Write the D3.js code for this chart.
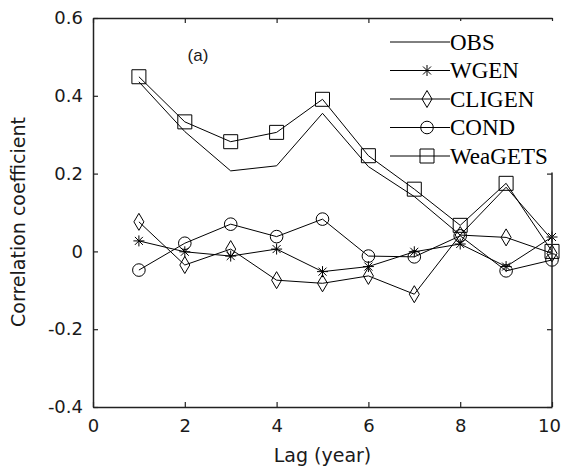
<!DOCTYPE html>
<html>
<head>
<meta charset="utf-8">
<script src="https://cdn.jsdelivr.net/npm/d3@7"></script>
<style>
  body { margin: 0; background: #fff; }
  svg { display: block; }
</style>
</head>
<body>
<div id="chart"></div>
<script>
const lags = [1, 2, 3, 4, 5, 6, 7, 8, 9, 10]
const obs     = [0.436, 0.308, 0.207, 0.220, 0.355, 0.218, 0.141, 0.042, 0.165, 0.030]
const wgen    = [0.027, -0.001, -0.012, 0.006, -0.052, -0.039, -0.001, 0.019, -0.039, 0.037]
const cligen  = [0.076, -0.035, 0.006, -0.074, -0.082, -0.063, -0.110, 0.042, 0.036, -0.005]
const cond    = [-0.048, 0.021, 0.070, 0.038, 0.083, -0.012, -0.014, 0.040, -0.050, -0.022]
const weagets = [0.449, 0.333, 0.282, 0.306, 0.391, 0.246, 0.160, 0.067, 0.175, 0.000]
const seriesNames = ["OBS", "WGEN", "CLIGEN", "COND", "WeaGETS"]
const xTicks = [0, 2, 4, 6, 8, 10]
const yTicks = [-0.4, -0.2, 0, 0.2, 0.4, 0.6]

const W = 561, H = 469
const margin = { top: 18, right: 9, bottom: 62, left: 93 }

const svg = d3.select("#chart").append("svg")
  .attr("width", W)
  .attr("height", H)

const x = d3.scaleLinear().domain([0, 10]).range([margin.left, W - margin.right])
const y = d3.scaleLinear().domain([-0.4, 0.6]).range([H - margin.bottom, margin.top])

// marker shapes, as in the matlab figure
const markers = {
  OBS: null,
  WGEN: "M-5.5,0H5.5M0,-5.5V5.5M-4,-4L4,4M-4,4L4,-4",
  CLIGEN: "M0,-8.5L5,0L0,8.5L-5,0Z",
  COND: d3.symbol(d3.symbolCircle, Math.PI * 6.3 * 6.3)(),
  WeaGETS: "M-7,-7H7V7H-7Z"
}

const series = [obs, wgen, cligen, cond, weagets].map((vals, i) => ({
  name: seriesNames[i],
  values: lags.map((l, j) => ({ lag: l, v: vals[j] }))
}))

const line = d3.line()
  .x((d) => { return x(d.lag) })
  .y((d) => { return y(d.v) })

const plot = svg.append("g")

plot.selectAll("path.series")
  .data(series)
  .join("path")
    .attr("class", "series")
    .attr("d", (d) => line(d.values))
    .attr("fill", "none")
    .attr("stroke", "#000")
    .attr("stroke-width", 1)

series.forEach((s) => {
  if (!markers[s.name]) return
  plot.selectAll(null)
    .data(s.values)
    .join("path")
      .attr("transform", (d) => "translate(" + x(d.lag) + "," + y(d.v) + ")")
      .attr("d", markers[s.name])
      .attr("fill", "none")
      .attr("stroke", "#000")
      .attr("stroke-width", 1)
})

// axes
const fmtY = (d) => String(Math.round(d * 10) / 10)
const axisColor = "#222"

const gx = svg.append("g")
  .attr("transform", "translate(0," + y(-0.4) + ")")
  .call(d3.axisBottom(x).tickValues(xTicks).tickSizeInner(-5).tickSizeOuter(0).tickPadding(12))
const gxTop = svg.append("g")
  .attr("transform", "translate(0," + y(0.6) + ")")
  .call(d3.axisTop(x).tickValues(xTicks).tickSizeInner(-5).tickSizeOuter(0).tickFormat(""))
const gy = svg.append("g")
  .attr("transform", "translate(" + x(0) + ",0)")
  .call(d3.axisLeft(y).tickValues(yTicks).tickSizeInner(-5).tickSizeOuter(0).tickPadding(10).tickFormat(fmtY))

// legend box hides the upper part of the right axis
const lg = svg.append("g")
lg.append("rect")
  .attr("x", 388).attr("y", 21)
  .attr("width", W - 388).attr("height", 147)
  .attr("fill", "#fff")

const gyRight = svg.append("g")
  .attr("transform", "translate(" + x(10) + ",0)")
  .call(d3.axisRight(y).tickValues(yTicks.filter((t) => t <= 0.2)).tickSizeInner(-5).tickSizeOuter(0).tickFormat(""))
gyRight.select(".domain").remove()
gyRight.append("line")
  .attr("x1", 0).attr("x2", 0)
  .attr("y1", y(0.2) - 1).attr("y2", y(-0.4))
  .attr("stroke", axisColor).attr("stroke-width", 1.5)

;[gx, gxTop, gy].forEach((g) => {
  g.select(".domain").attr("stroke", axisColor).attr("stroke-width", 1.5)
})
;[gx, gxTop, gy, gyRight].forEach((g) => {
  g.selectAll(".tick line").attr("stroke", axisColor).attr("stroke-width", 1.2)
  g.selectAll(".tick text")
    .attr("font-family", "'DejaVu Sans', sans-serif")
    .attr("font-size", 18)
    .attr("fill", "#1a1a1a")
})
// keep the last x label inside the window
gx.selectAll(".tick text").filter((d) => d === 10).attr("dx", -3)

// legend entries
series.forEach((s, i) => {
  const ly = 42 + i * 28.5
  lg.append("line")
    .attr("x1", 390).attr("x2", 450)
    .attr("y1", ly).attr("y2", ly)
    .attr("stroke", "#000").attr("stroke-width", 1)
  if (markers[s.name]) {
    lg.append("path")
      .attr("transform", "translate(427," + ly + ")")
      .attr("d", markers[s.name])
      .attr("fill", "none")
      .attr("stroke", "#000")
  }
  lg.append("text")
    .attr("x", 450).attr("y", ly)
    .attr("dy", "0.34em")
    .attr("font-family", "'Liberation Serif', 'Times New Roman', serif")
    .attr("font-size", 23)
    .attr("fill", "#000")
    .text(s.name)
})

// labels
svg.append("text")
  .attr("x", (x(0) + x(10)) / 2).attr("y", 462)
  .attr("text-anchor", "middle")
  .attr("font-family", "'DejaVu Sans', sans-serif")
  .attr("font-size", 19)
  .attr("fill", "#1a1a1a")
  .text("Lag (year)")

svg.append("text")
  .attr("transform", "translate(25,222) rotate(-90)")
  .attr("text-anchor", "middle")
  .attr("font-family", "'DejaVu Sans', sans-serif")
  .attr("font-size", 19)
  .attr("fill", "#1a1a1a")
  .text("Correlation coefficient")

svg.append("text")
  .attr("x", 198).attr("y", 61)
  .attr("text-anchor", "middle")
  .attr("font-family", "'Liberation Sans', Arial, sans-serif")
  .attr("font-size", 17)
  .attr("fill", "#1a1a1a")
  .text("(a)")
</script>
</body>
</html>
